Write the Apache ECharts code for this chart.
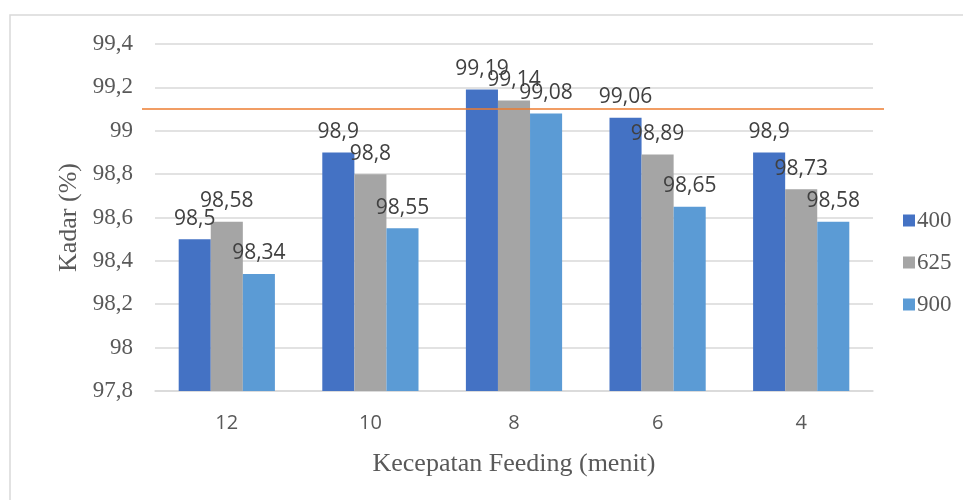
<!DOCTYPE html>
<html>
<head>
<meta charset="utf-8">
<script src="https://cdn.jsdelivr.net/npm/echarts@6/dist/echarts.min.js"></script>
<style>
  html, body { margin: 0; padding: 0; background: #fff; }
  #chart { width: 963px; height: 500px; }
</style>
</head>
<body>
<div id="chart"></div>
<script>
// Feeding speed categories (minutes)
const categories = ['12', '10', '8', '6', '4'];
// Series names and their values (Kadar %)
const seriesNames = ['400', '625', '900'];
const values400 = [98.5, 98.9, 99.19, 99.06, 98.9];
const values625 = [98.58, 98.8, 99.14, 98.89, 98.73];
const values900 = [98.34, 98.55, 99.08, 98.65, 98.58];
// Value axis range
const yMin = 97.8;
const yMax = 99.4;
const yStep = 0.2;
// Reference level drawn as a horizontal line
const referenceLevel = 99.1;

const colors = ['#4472C4', '#A5A5A5', '#5B9BD5'];
const seriesValues = [values400, values625, values900];

const fmt = v => String(+(+v).toFixed(2)).replace('.', ',');

const chart = echarts.init(document.getElementById('chart'));

const option = {
  animation: false,
  backgroundColor: '#ffffff',
  grid: { left: 155, right: 90, top: 44, bottom: 109 },
  legend: {
    orient: 'vertical',
    left: 898,
    top: 204,
    itemWidth: 12,
    itemHeight: 12,
    itemGap: 19,
    icon: 'rect',
    textStyle: { fontFamily: 'Liberation Serif', fontSize: 23, color: '#595959', lineHeight: 23, padding: [0, 0, 0, -3] },
    data: seriesNames
  },
  xAxis: {
    type: 'category',
    data: categories,
    name: 'Kecepatan Feeding (menit)',
    nameLocation: 'middle',
    nameGap: 60,
    nameTextStyle: { fontFamily: 'Liberation Serif', fontSize: 26, color: '#595959' },
    axisLine: { lineStyle: { color: '#d9d9d9', width: 1.5 } },
    axisTick: { show: false },
    axisLabel: { fontFamily: 'Open Sans', fontSize: 20, color: '#595959', margin: 22 }
  },
  yAxis: {
    type: 'value',
    min: yMin,
    max: yMax,
    interval: yStep,
    name: 'Kadar (%)',
    nameLocation: 'middle',
    nameGap: 68,
    nameTextStyle: { fontFamily: 'Liberation Serif', fontSize: 26, color: '#595959' },
    axisLine: { show: false },
    axisTick: { show: false },
    splitLine: { lineStyle: { color: '#d9d9d9', width: 1.5 } },
    axisLabel: {
      fontFamily: 'Liberation Serif', fontSize: 23, color: '#595959', margin: 22,
      formatter: v => fmt(v)
    }
  },
  series: seriesNames.map((name, i) => ({
    name: name,
    type: 'bar',
    data: seriesValues[i],
    barGap: '0%',
    barCategoryGap: '33%',
    itemStyle: { color: colors[i] },
    label: {
      show: true,
      position: 'top',
      distance: 10,
      fontFamily: 'Open Sans',
      fontSize: 21,
      color: '#404040',
      formatter: p => fmt(p.value)
    }
  }))
};

chart.setOption(option);

// Outer frame and the horizontal reference line at the given level
const yRef = chart.convertToPixel({ yAxisIndex: 0 }, referenceLevel);
chart.setOption({
  graphic: [
    {
      type: 'rect',
      silent: true,
      shape: { x: 10, y: 15, width: 1000, height: 600 },
      style: { fill: 'none', stroke: '#d9d9d9', lineWidth: 1.5 }
    },
    {
      type: 'line',
      silent: true,
      z: 10,
      shape: { x1: 142, y1: yRef, x2: 884, y2: yRef },
      style: { stroke: '#ED7D31', lineWidth: 1.5 }
    }
  ]
});
</script>
</body>
</html>
